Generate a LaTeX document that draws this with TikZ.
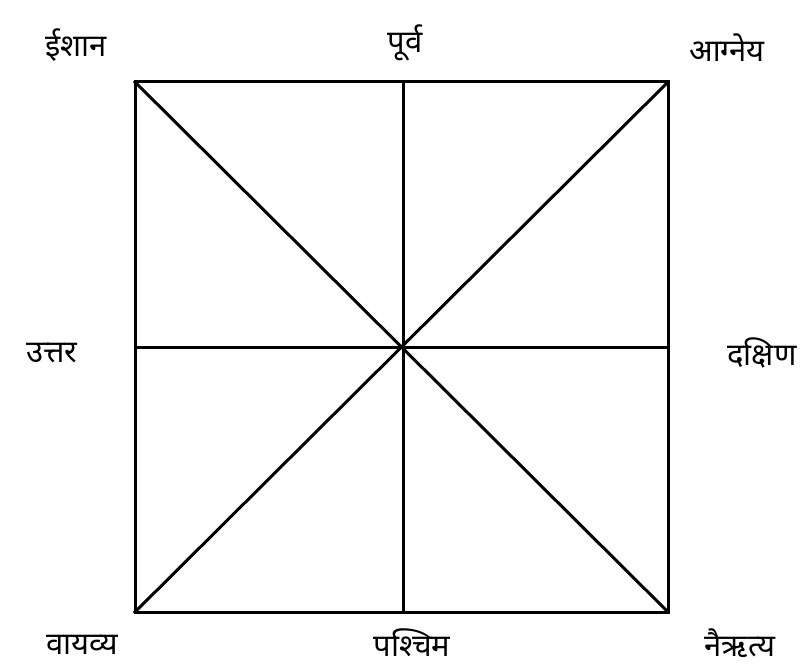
\documentclass[tikz,border=0pt]{standalone}
\usepackage{fontspec}
\newfontfamily\devfont[Script=Devanagari]{Noto Sans}
\begin{document}
\begin{tikzpicture}[x=1pt,y=-1pt,
  edge/.style={line width=3pt,line cap=rect},
  lbl/.style={font=\devfont\fontsize{31}{34}\selectfont,inner sep=0pt}]
\useasboundingbox (0,0) rectangle (806,669);
\coordinate (tl) at (135,82);
\coordinate (tr) at (668,82);
\coordinate (bl) at (135,612);
\coordinate (br) at (668,612);
\coordinate (tm) at (403,82);
\coordinate (bm) at (403,612);
\coordinate (lm) at (135,347);
\coordinate (rm) at (668,347);
\draw[edge] (tl) -- (tr) -- (br) -- (bl) -- cycle;
\draw[edge] (tl) -- (br);
\draw[edge] (tr) -- (bl);
\draw[edge] (tm) -- (bm);
\draw[edge] (lm) -- (rm);
\node[lbl] (ne) at (76,45) {ईशान};
\node[lbl] (e) at (405,43) {पूर्व};
\node[lbl] (se) at (727,48) {आग्नेय};
\node[lbl] (n) at (52,353) {उत्तर};
\node[lbl] (s) at (762,353) {दक्षिण};
\node[lbl] (nw) at (82,645) {वायव्य};
\node[lbl] (w) at (412,643) {पश्चिम};
\node[lbl] (sw) at (740,643) {नैऋत्य};
\end{tikzpicture}
\end{document}
